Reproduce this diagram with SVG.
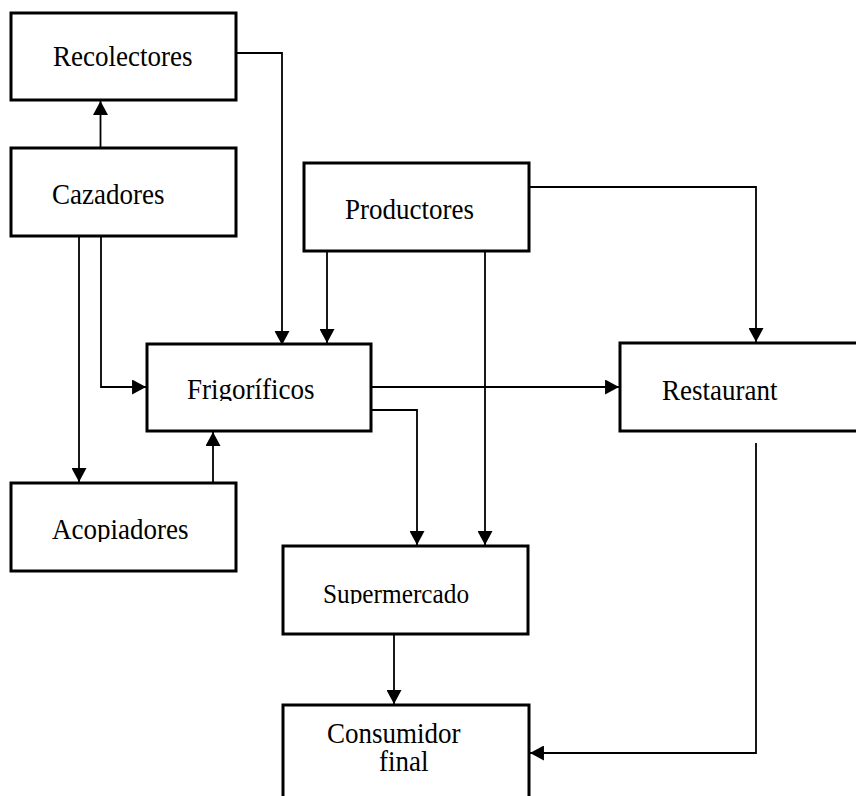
<svg xmlns="http://www.w3.org/2000/svg" width="856" height="796" viewBox="0 0 856 796">
<style>
.box{fill:#fff;stroke:#000;stroke-width:3}
.lbl{font-family:"Liberation Serif","Times New Roman",serif;font-size:27px;fill:#000}
.con{fill:none;stroke:#000;stroke-width:1.8;marker-end:url(#ah)}
</style>
<defs>
<marker id="ah" markerUnits="userSpaceOnUse" markerWidth="15" markerHeight="15" viewBox="0 0 14 14" refX="13" refY="7" orient="auto">
<path d="M0,0 L13,7 L0,14 z" fill="#000"/>
</marker>
<clipPath id="cFrig"><rect x="146" y="343" width="226" height="58"/></clipPath>
<clipPath id="cAcop"><rect x="10" y="482" width="227" height="60"/></clipPath>
<clipPath id="cSuper"><rect x="282" y="545" width="247" height="59"/></clipPath>
<clipPath id="cFinal"><rect x="282" y="704" width="248" height="68"/></clipPath>
</defs>
<rect width="856" height="796" fill="#fff"/>
<g id="connectors">
<path class="con" d="M100.5 147 V101"/>
<path class="con" d="M237 53 H282 V345"/>
<path class="con" d="M79 237 V482"/>
<path class="con" d="M101 237 V387 H146"/>
<path class="con" d="M213 482 V432"/>
<path class="con" d="M327 252 V343"/>
<path class="con" d="M485 252 V545"/>
<path class="con" d="M530 187 H756 V342"/>
<path class="con" d="M372 387 H619"/>
<path class="con" d="M372 410 H417 V545"/>
<path class="con" d="M394 635 V704"/>
<path class="con" d="M756 443 V753 H530"/>
</g>
<g id="recolectores"><rect class="box" x="11" y="13" width="225" height="87"/><text class="lbl" transform="translate(53 66) scale(1 1.07)">Recolectores</text></g>
<g id="cazadores"><rect class="box" x="11" y="148" width="225" height="88"/><text class="lbl" transform="translate(52 204) scale(1 1.07)">Cazadores</text></g>
<g id="productores"><rect class="box" x="304" y="163" width="225" height="88"/><text class="lbl" transform="translate(345 219) scale(1 1.07)">Productores</text></g>
<g id="frigorificos"><rect class="box" x="147" y="344" width="224" height="87"/><g clip-path="url(#cFrig)"><text class="lbl" transform="translate(187 399) scale(1 1.07)">Frigoríficos</text></g></g>
<g id="restaurant"><rect class="box" x="620" y="343" width="250" height="88"/><text class="lbl" transform="translate(662 400) scale(1 1.07)">Restaurant</text></g>
<g id="acopiadores"><rect class="box" x="11" y="483" width="225" height="88"/><g clip-path="url(#cAcop)"><text class="lbl" transform="translate(52 539) scale(1 1.07)">Acopiadores</text></g></g>
<g id="supermercado"><rect class="box" x="283" y="546" width="245" height="88"/><g clip-path="url(#cSuper)"><text class="lbl" style="font-size:25.3px" transform="translate(323 603) scale(1 1.12)">Supermercado</text></g></g>
<g id="consumidor"><rect class="box" x="283" y="705" width="246" height="120"/><text class="lbl" transform="translate(327 743) scale(1 1.07)">Consumidor</text><g clip-path="url(#cFinal)"><text class="lbl" transform="translate(379 771) scale(1 1.07)">final</text></g></g>
</svg>
